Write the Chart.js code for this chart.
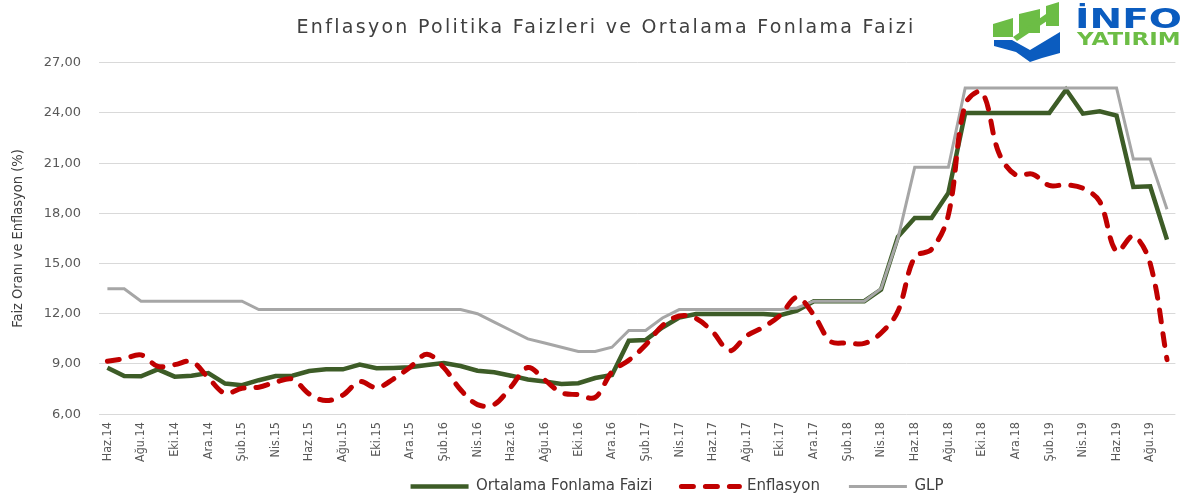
<!DOCTYPE html>
<html lang="tr">
<head>
<meta charset="utf-8">
<title>Enflasyon Politika Faizleri ve Ortalama Fonlama Faizi</title>
<script src="https://cdn.jsdelivr.net/npm/chart.js@4.4.1/dist/chart.umd.min.js"></script>
<style>
  html, body { margin: 0; padding: 0; background: #ffffff; overflow: hidden; }
  #grafik { display: block; }
</style>
</head>
<body>
<canvas id="grafik" width="1190" height="497"></canvas>
<script>
// Aylar (Haziran 2014 - Eylül 2019)
const aylar = [
  'Haz.14', 'Tem.14', 'Ağu.14', 'Eyl.14', 'Eki.14', 'Kas.14', 'Ara.14',
  'Oca.15', 'Şub.15', 'Mar.15', 'Nis.15', 'May.15', 'Haz.15', 'Tem.15', 'Ağu.15', 'Eyl.15', 'Eki.15', 'Kas.15', 'Ara.15',
  'Oca.16', 'Şub.16', 'Mar.16', 'Nis.16', 'May.16', 'Haz.16', 'Tem.16', 'Ağu.16', 'Eyl.16', 'Eki.16', 'Kas.16', 'Ara.16',
  'Oca.17', 'Şub.17', 'Mar.17', 'Nis.17', 'May.17', 'Haz.17', 'Tem.17', 'Ağu.17', 'Eyl.17', 'Eki.17', 'Kas.17', 'Ara.17',
  'Oca.18', 'Şub.18', 'Mar.18', 'Nis.18', 'May.18', 'Haz.18', 'Tem.18', 'Ağu.18', 'Eyl.18', 'Eki.18', 'Kas.18', 'Ara.18',
  'Oca.19', 'Şub.19', 'Mar.19', 'Nis.19', 'May.19', 'Haz.19', 'Tem.19', 'Ağu.19', 'Eyl.19'
];

// Ortalama fonlama faizi (%)
const fonlama = [
  8.78, 8.28, 8.26, 8.68, 8.24, 8.30, 8.46,
  7.83, 7.73, 8.03, 8.28, 8.30, 8.58, 8.68, 8.68, 8.96, 8.74, 8.76, 8.80,
  8.94, 9.06, 8.88, 8.60, 8.50, 8.30, 8.07, 7.95, 7.81, 7.85, 8.16, 8.34,
  10.39, 10.43, 11.18, 11.78, 11.98, 11.98, 11.98, 11.98, 11.98, 11.92, 12.18, 12.75,
  12.75, 12.75, 12.75, 13.44, 16.60, 17.72, 17.72, 19.22, 24.00, 24.00, 24.00, 24.00,
  24.00, 24.00, 25.40, 23.96, 24.10, 23.84, 19.58, 19.62, 16.43
];

// Yıllık enflasyon (%)
const enflasyon = [
  9.16, 9.32, 9.54, 8.86, 8.96, 9.15, 8.17,
  7.24, 7.55, 7.61, 7.91, 8.09, 7.20, 6.81, 7.14, 7.95, 7.58, 8.10, 8.81,
  9.58, 8.78, 7.46, 6.57, 6.58, 7.64, 8.79, 8.05, 7.28, 7.16, 7.00, 8.53,
  9.22, 10.13, 11.29, 11.87, 11.72, 10.90, 9.79, 10.68, 11.20, 11.90, 12.98, 11.92,
  10.35, 10.26, 10.23, 10.85, 12.15, 15.39, 15.85, 17.90, 24.52, 25.24, 21.62, 20.30,
  20.35, 19.67, 19.71, 19.50, 18.71, 15.72, 16.65, 15.01, 9.26
];

// Geç likidite penceresi borç verme faizi (%)
const glp = [
  13.50, 13.50, 12.75, 12.75, 12.75, 12.75, 12.75,
  12.75, 12.75, 12.25, 12.25, 12.25, 12.25, 12.25, 12.25, 12.25, 12.25, 12.25, 12.25,
  12.25, 12.25, 12.25, 12.00, 11.50, 11.00, 10.50, 10.25, 10.00, 9.75, 9.75, 10.00,
  11.00, 11.00, 11.75, 12.25, 12.25, 12.25, 12.25, 12.25, 12.25, 12.25, 12.35, 12.75,
  12.75, 12.75, 12.75, 13.50, 16.50, 20.75, 20.75, 20.75, 25.50, 25.50, 25.50, 25.50,
  25.50, 25.50, 25.50, 25.50, 25.50, 25.50, 21.25, 21.25, 18.25
];

// Y ekseni sınırları
const yMin = 6;
const yMax = 27;
const yAdim = 3;

// Başlığı harf aralığıyla çizer
function aralikli(kutu, ctx, aralik) {
  if (kutu._aralikli) return;
  const orj = kutu.draw.bind(kutu);
  kutu.draw = function (alan) {
    ctx.save();
    ctx.letterSpacing = aralik;
    orj(alan);
    ctx.restore();
  };
  kutu._aralikli = true;
}

// Başlık ve lejandı referanstaki yerine kaydırır
const yerlesim = {
  id: 'yerlesim',
  afterLayout(chart) {
    const t = chart.titleBlock;
    t.left += 11; t.right += 11;
    aralikli(t, chart.ctx, '2.3px');
    const l = chart.legend;
    if (!l._kirpmasiz) {
      // lejand kutusunu kırpmadan çiz
      l.draw = function () { if (this.options.display) this._draw(); };
      l._kirpmasiz = true;
    }
    l.left += 82; l.right += 82;
    l.top -= 20; l.bottom -= 20;
  }
};

// Lejand çizgileri veri serisinin çizgi stilini alsın (kesikli çizgi dahil)
function lejandEtiketleri(chart) {
  const items = Chart.defaults.plugins.legend.labels.generateLabels(chart);
  items.forEach((it) => {
    const ds = chart.data.datasets[it.datasetIndex];
    it.strokeStyle = ds.borderColor;
    it.lineWidth = ds.borderWidth;
    it.lineDash = ds.borderDash || [];
    it.lineCap = ds.borderCapStyle || 'butt';
  });
  return items;
}

// Sağ üstteki logo
function cokgen(c, pts) {
  c.beginPath();
  c.moveTo(pts[0][0], pts[0][1]);
  for (let i = 1; i < pts.length; i++) c.lineTo(pts[i][0], pts[i][1]);
  c.closePath();
  c.fill();
}
const logo = {
  id: 'logo',
  afterDraw(chart) {
    const c = chart.ctx;
    c.save();
    c.fillStyle = '#6cbd45';
    cokgen(c, [[993, 24], [1013, 18], [1013, 37], [993, 37]]);
    cokgen(c, [[1019, 14], [1040, 9], [1040, 33], [1019, 33]]);
    cokgen(c, [[1046, 6], [1059, 2], [1059, 26], [1046, 26]]);
    cokgen(c, [[1013, 37], [1046, 14], [1050, 19], [1017, 41]]);
    c.fillStyle = '#0b5cbf';
    cokgen(c, [[994, 40], [1012, 40], [1030, 50], [1045, 41], [1060, 32], [1060, 53], [1042, 58], [1030, 62], [1016, 52], [994, 46]]);
    c.textBaseline = 'alphabetic';
    c.font = 'bold 26px "DejaVu Sans"';
    c.translate(1075, 28);
    c.scale(1.5, 1);
    c.fillText('İNFO', 0, 0);
    c.setTransform(1, 0, 0, 1, 0, 0);
    c.fillStyle = '#6cbd45';
    c.font = 'bold 17px "DejaVu Sans"';
    c.translate(1077, 45);
    c.scale(1.35, 1);
    c.fillText('YATIRIM', 0, 0);
    c.restore();
  }
};

const ctxGrafik = document.getElementById('grafik').getContext('2d');

new Chart(ctxGrafik, {
  type: 'line',
  data: {
    labels: aylar,
    datasets: [
      {
        label: 'Ortalama Fonlama Faizi',
        data: fonlama,
        borderColor: '#3d5c27',
        backgroundColor: '#3d5c27',
        borderWidth: 4.5,
        pointRadius: 0,
        tension: 0,
        order: 3
      },
      {
        label: 'Enflasyon',
        data: enflasyon,
        borderColor: '#c00000',
        backgroundColor: '#c00000',
        borderWidth: 5,
        borderDash: [12, 12],
        borderCapStyle: 'round',
        pointRadius: 0,
        tension: 0.35,
        order: 1
      },
      {
        label: 'GLP',
        data: glp,
        borderColor: '#a6a6a6',
        backgroundColor: '#a6a6a6',
        borderWidth: 3,
        pointRadius: 0,
        tension: 0,
        order: 2
      }
    ]
  },
  options: {
    responsive: false,
    animation: false,
    devicePixelRatio: 1,
    layout: { padding: 0 },
    plugins: {
      title: {
        display: true,
        text: 'Enflasyon Politika Faizleri ve Ortalama Fonlama Faizi',
        color: '#404040',
        font: { family: 'DejaVu Sans', size: 19, weight: 'normal' },
        padding: { top: 17, bottom: 23 }
      },
      legend: {
        position: 'bottom',
        maxHeight: 27,
        labels: {
          usePointStyle: true,
          pointStyle: 'line',
          pointStyleWidth: 58,
          padding: 29,
          color: '#404040',
          font: { family: 'DejaVu Sans', size: 15 },
          generateLabels: lejandEtiketleri,
          sort: (a, b) => a.datasetIndex - b.datasetIndex
        }
      },
      tooltip: { enabled: false }
    },
    scales: {
      x: {
        offset: true,
        grid: { display: false, drawTicks: false },
        border: { display: false },
        ticks: {
          autoSkip: false,
          minRotation: 90,
          maxRotation: 90,
          padding: 8,
          color: '#595959',
          font: { family: 'DejaVu Sans Condensed', size: 12.5 },
          callback: function (val, i) {
            return i % 2 === 0 ? this.getLabelForValue(val) : '';
          }
        }
      },
      y: {
        min: yMin,
        max: yMax,
        border: { display: false },
        grid: { color: '#d9d9d9', lineWidth: 1, drawTicks: false },
        ticks: {
          stepSize: yAdim,
          padding: 18,
          color: '#595959',
          font: { family: 'DejaVu Sans', size: 13 },
          callback: (v) => v.toFixed(2).replace('.', ',')
        },
        title: {
          display: true,
          text: 'Faiz Oranı ve Enflasyon (%)',
          color: '#404040',
          font: { family: 'DejaVu Sans Condensed', size: 14.5 },
          padding: { top: 10, bottom: 0 }
        },
        afterFit: (s) => { s.width = 99; }
      }
    }
  },
  plugins: [yerlesim, logo]
});
</script>
</body>
</html>
